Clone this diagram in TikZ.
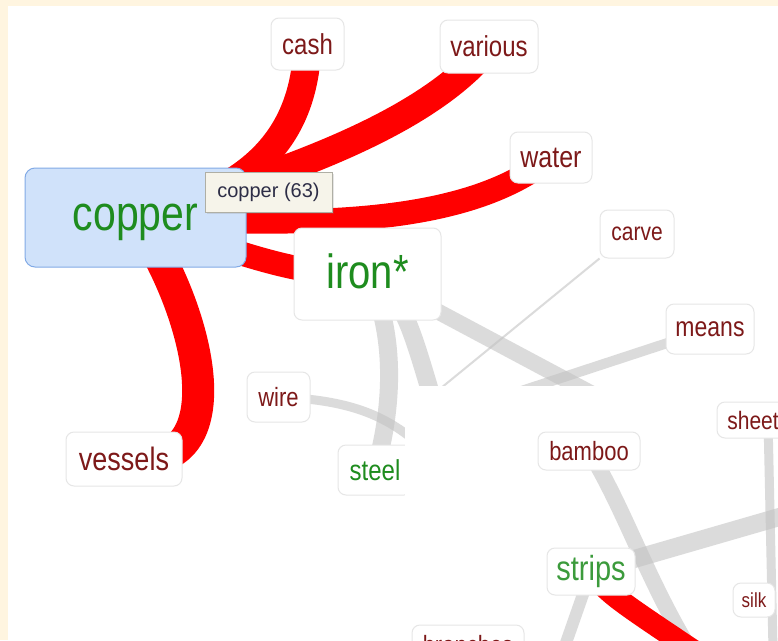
\documentclass[tikz,border=0pt]{standalone}
\usepackage{fontspec}
\setmainfont{Liberation Sans}
\usepackage{graphicx}
\usetikzlibrary{shadows}
\definecolor{cream}{RGB}{255,245,224}
\definecolor{wordred}{RGB}{125,25,25}
\definecolor{wordgreen}{RGB}{30,140,30}
\definecolor{stripgreen}{RGB}{60,155,60}
\definecolor{boxline}{RGB}{230,230,230}
\definecolor{copperfill}{RGB}{208,226,250}
\definecolor{copperline}{RGB}{130,170,230}
\definecolor{tipfill}{RGB}{246,244,234}
\definecolor{tipline}{RGB}{175,175,165}
\definecolor{tiptext}{RGB}{45,45,70}
\definecolor{edgegray}{RGB}{195,195,195}
\definecolor{edgered}{RGB}{255,0,0}
\newcommand{\vst}[1]{\scalebox{1}[1.2]{#1}}
\newcommand{\fsz}[1]{\fontsize{#1}{#1}\selectfont}
\pgfdeclarelayer{bglayer}
\pgfdeclarelayer{edgelayer}
\pgfdeclarelayer{patchlayer}
\pgfdeclarelayer{patchedges}
\pgfdeclarelayer{patchnodes}
\pgfsetlayers{bglayer,edgelayer,main,patchlayer,patchedges,patchnodes}
\tikzset{
  wordbox/.style={draw=boxline, line width=1pt, fill=white, rounded corners=8pt, inner sep=0pt, text=wordred},
  greenbox/.style={wordbox, text=wordgreen},
  redge/.style={draw=edgered, line width=#1},
  redge/.default=24pt,
  gedge/.style={draw=edgegray, draw opacity=0.6, line width=#1},
  gedge/.default=12pt,
}
\begin{document}
\begin{tikzpicture}[x=1pt,y=-1pt]
\useasboundingbox (0,0) rectangle (778,640);
\clip (0,0) rectangle (778,640);
\begin{pgfonlayer}{bglayer}
  \fill[cream] (0,0) rectangle (778,640);
  \fill[white] (8,6) rectangle (778,640);
\end{pgfonlayer}

% upper nodes
\node[wordbox, minimum width=73pt, minimum height=52pt, font=\fsz{24}] (cash) at (307.5,44) {\vst{cash}};
\node[wordbox, minimum width=98pt, minimum height=53pt, font=\fsz{24}] (various) at (489,46.5) {\vst{various}};
\node[wordbox, minimum width=82pt, minimum height=51pt, font=\fsz{25}] (water) at (551,157.5) {\vst{water}};
\node[wordbox, minimum width=74pt, minimum height=48pt, font=\fsz{21}] (carve) at (637,234) {\vst{carve}};
\node[wordbox, minimum width=88pt, minimum height=50pt, font=\fsz{23}] (means) at (710,329) {\vst{means}};
\node[wordbox, minimum width=63pt, minimum height=50pt, font=\fsz{22}] (wire) at (278.5,397) {\vst{wire}};
\node[greenbox, minimum width=74pt, minimum height=50pt, font=\fsz{24}] (steel) at (375,470) {\vst{steel}};
\node[wordbox, minimum width=116pt, minimum height=54pt, font=\fsz{27}] (vessels) at (124,459) {\vst{vessels}};
\node[greenbox, minimum width=147pt, minimum height=92pt, font=\fsz{40}, text depth=5pt] (iron) at (367.5,274) {\vst{iron*}};
\node[draw=copperline, fill=copperfill, rounded corners=10pt, line width=1pt, inner sep=0pt,
      minimum width=221pt, minimum height=99pt, text=wordgreen, font=\fsz{41}, text depth=0pt] (copper) at (135.5,217.5) {\vst{copper}};
\node[draw=tipline, fill=tipfill, line width=1pt, inner sep=0pt, minimum width=127pt, minimum height=40pt,
      text=tiptext, font=\fsz{20}, drop shadow={opacity=0.2, shadow xshift=2pt, shadow yshift=-2pt}] (tip) at (268.5,192) {copper (63)};

% upper connectors
\coordinate (g2end) at (440,425);
\coordinate (g3end) at (600,398);
\coordinate (g4end) at (500,398);
\coordinate (g5end) at (430,397);
\coordinate (g6end) at (420,445);
\begin{pgfonlayer}{edgelayer}
  \draw[gedge=18pt] (iron.center) .. controls (400,340) and (390,420) .. (steel.center);
  \draw[gedge=18pt] (iron.center) .. controls (405,305) .. (g2end);
  \draw[gedge=16pt] (iron.center) -- (g3end);
  \draw[gedge=10pt] (means.center) -- (g4end);
  \draw[gedge=2pt] (carve.south west) -- (g5end);
  \draw[gedge=9pt] (wire.center) .. controls (350,400) and (385,415) .. (g6end);
  \draw[redge=28pt] (copper.center) .. controls (270,190) and (305,120) .. (cash.center);
  \draw[redge=28pt] (copper.center) .. controls (300,170) and (430,120) .. (various.center);
  \draw[redge=24pt] (copper.center) .. controls (330,228) and (470,222) .. (water.center);
  \draw[redge=24pt] (copper.center) .. controls (230,250) and (300,278) .. (iron.center);
  \draw[redge=32pt] (copper.center) .. controls (195,300) and (245,475) .. (vessels.center);
\end{pgfonlayer}

% pasted lower-right panel
\begin{pgfonlayer}{patchlayer}
  \fill[white] (405,386) rectangle (778,640);
\end{pgfonlayer}
\begin{pgfonlayer}{patchnodes}
  \node[wordbox, minimum width=102pt, minimum height=38pt, font=\fsz{22}] (bamboo) at (589,451) {\vst{bamboo}};
  \node[wordbox, minimum width=72pt, minimum height=36pt, font=\fsz{21}] (sheet) at (753,420) {\vst{sheet}};
  \node[wordbox, minimum width=88pt, minimum height=47pt, font=\fsz{29}, text=stripgreen] (strips) at (591,571.5) {\vst{strips}};
  \node[wordbox, minimum width=42pt, minimum height=34pt, font=\fsz{17}] (silk) at (754,600) {\vst{silk}};
  \node[wordbox, minimum width=112pt, minimum height=40pt, font=\fsz{22}] (branches) at (468,645) {\vst{branches}};
\end{pgfonlayer}
\coordinate (pend1) at (690,650);
\coordinate (pend2) at (800,511);
\coordinate (pend3) at (773,650);
\coordinate (pend4) at (560,660);
\coordinate (pend5) at (715,665);
\begin{pgfonlayer}{patchedges}
  \draw[gedge=16pt] (bamboo.center) .. controls (625,510) and (645,575) .. (pend1);
  \draw[gedge=18pt] (strips.center) -- (pend2);
  \draw[gedge=9pt] ([xshift=15pt]sheet.center) -- (pend3);
  \draw[gedge=12pt] (strips.center) -- (pend4);
  \draw[redge=22pt] (strips.center) .. controls (610,595) .. (pend5);
\end{pgfonlayer}
\end{tikzpicture}
\end{document}
